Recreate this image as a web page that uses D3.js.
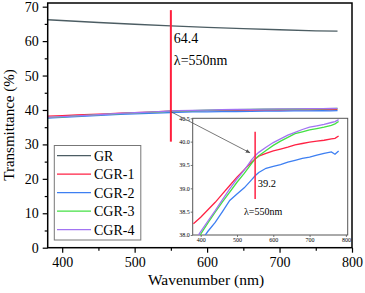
<!DOCTYPE html>
<meta charset="utf-8">
<style>
body { margin: 0; background: #fff; }
text { font-family: "Liberation Serif", "Times New Roman", serif; fill: #000; }
.line { fill: none; stroke-width: 1.3px; }
</style>
<svg width="365" height="293"></svg>
<script src="https://cdn.jsdelivr.net/npm/d3@7"></script>
<script>

// GR curve
var grWave = [380, 450, 500, 550, 600, 650, 700, 750, 780];
var grVals = [66.2, 65.4, 64.9, 64.4, 64.0, 63.6, 63.3, 63.0, 62.9];

// CGR curves share one wavelength grid
var wave = [380, 400, 420, 440, 460, 480, 500, 520, 540, 550, 560, 580, 600, 620, 640, 660, 680, 700, 720, 740, 760, 770, 780];
var cgr1 = [38.24, 38.38, 38.54, 38.70, 38.88, 39.06, 39.24, 39.40, 39.56, 39.63, 39.69, 39.75, 39.80, 39.84, 39.88, 39.93, 39.96, 39.99, 40.01, 40.03, 40.06, 40.07, 40.12];
var cgr2 = [37.62, 37.86, 38.08, 38.27, 38.50, 38.74, 38.88, 39.01, 39.18, 39.27, 39.34, 39.43, 39.47, 39.51, 39.56, 39.60, 39.64, 39.67, 39.71, 39.75, 39.78, 39.73, 39.80];
var cgr3 = [37.80, 38.02, 38.26, 38.49, 38.71, 38.92, 39.13, 39.32, 39.53, 39.63, 39.70, 39.81, 39.92, 40.01, 40.09, 40.17, 40.21, 40.25, 40.28, 40.31, 40.35, 40.38, 40.43];
var cgr4 = [37.84, 38.07, 38.30, 38.52, 38.76, 38.99, 39.20, 39.39, 39.61, 39.70, 39.77, 39.88, 39.98, 40.06, 40.14, 40.20, 40.26, 40.31, 40.34, 40.37, 40.41, 40.43, 40.47];

var names = ["GR", "CGR-1", "CGR-2", "CGR-3", "CGR-4"];
var colors = ["#4c5d63", "#ff2244", "#3d7ff2", "#44e044", "#a274f2"];

var xTicks = [400, 500, 600, 700, 800];
var yTicks = [0, 10, 20, 30, 40, 50, 60, 70];
var insetXTicks = [400, 500, 600, 700, 800];
var insetYTicks = [38.0, 38.5, 39.0, 39.5, 40.0, 40.5];

var svg = d3.select("svg");

var x = d3.scaleLinear().domain([380, 800]).range([47.7, 352]);
var y = d3.scaleLinear().domain([0, 71.07]).range([247.7, 3]);

var series = [cgr1, cgr2, cgr3, cgr4];

// main curves
var line = d3.line().x(function(d) { return x(d[0]); }).y(function(d) { return y(d[1]); });
svg.append("path")
    .attr("class", "line")
    .attr("stroke", colors[0])
    .attr("d", line(d3.zip(grWave, grVals)));
series.forEach(function(s, i) {
  svg.append("path")
      .attr("class", "line")
      .attr("stroke", colors[i + 1])
      .attr("d", line(d3.zip(wave, s)));
});

// frame
svg.append("rect")
    .attr("x", x.range()[0]).attr("y", y.range()[1])
    .attr("width", x.range()[1] - x.range()[0])
    .attr("height", y.range()[0] - y.range()[1])
    .attr("fill", "none").attr("stroke", "#000").attr("stroke-width", 1.5);

// axes with minor ticks
function styleAxis(g) {
  g.select(".domain").remove();
  g.selectAll("line").attr("stroke", "#000").attr("stroke-width", 1.2);
  g.selectAll("text").style("font-family", "Liberation Serif, Times New Roman, serif");
}
svg.append("g").attr("transform", "translate(0," + y.range()[0] + ")")
    .call(d3.axisBottom(x).tickValues(d3.range(450, 800, 100)).tickSize(3).tickFormat(""))
    .call(styleAxis);
svg.append("g").attr("transform", "translate(0," + y.range()[0] + ")")
    .call(d3.axisBottom(x).tickValues(xTicks).tickSize(5).tickPadding(4))
    .call(styleAxis)
    .selectAll("text").attr("font-size", 14);
svg.append("g").attr("transform", "translate(" + x.range()[0] + ",0)")
    .call(d3.axisLeft(y).tickValues(d3.range(5, 71, 10)).tickSize(3).tickFormat(""))
    .call(styleAxis);
svg.append("g").attr("transform", "translate(" + x.range()[0] + ",0)")
    .call(d3.axisLeft(y).tickValues(yTicks).tickSize(5).tickPadding(4))
    .call(styleAxis)
    .selectAll("text").attr("font-size", 14);

// axis titles
svg.append("text")
    .attr("x", 206).attr("y", 285)
    .attr("text-anchor", "middle").attr("font-size", 15.5)
    .text("Wavenumber (nm)");
svg.append("text")
    .attr("transform", "translate(14,125) rotate(-90)")
    .attr("text-anchor", "middle").attr("font-size", 15)
    .text("Transmittance (%)");

// marker at 550 nm in main plot
svg.append("line")
    .attr("x1", x(550)).attr("x2", x(550))
    .attr("y1", y(69)).attr("y2", y(30.8))
    .attr("stroke", "#ff1f3d").attr("stroke-width", 2);
svg.append("text").attr("x", x(550) + 3).attr("y", 43).attr("font-size", 14).text("64.4");
svg.append("text").attr("x", x(550) + 3).attr("y", 65).attr("font-size", 14).text("λ=550nm");

// legend
var lg = svg.append("g");
lg.append("rect")
    .attr("x", 54.3).attr("y", 145.5).attr("width", 86.5).attr("height", 94.5)
    .attr("fill", "#fff").attr("stroke", "#777").attr("stroke-width", 1);
names.forEach(function(n, i) {
  var yy = 155.7 + i * 18.5;
  lg.append("line")
      .attr("x1", 57).attr("x2", 91).attr("y1", yy).attr("y2", yy)
      .attr("stroke", colors[i]).attr("stroke-width", 1.3);
  lg.append("text").attr("x", 94).attr("y", yy + 5).attr("font-size", 14).text(n);
});

// inset
var xi = d3.scaleLinear().domain([378, 805]).range([192.7, 347.7]);
var yi = d3.scaleLinear().domain([38, 40.5]).range([235, 118.3]);

var inset = svg.append("g");
inset.append("rect")
    .attr("x", xi.range()[0]).attr("y", yi.range()[1])
    .attr("width", xi.range()[1] - xi.range()[0])
    .attr("height", yi.range()[0] - yi.range()[1])
    .attr("fill", "#fff").attr("stroke", "#555").attr("stroke-width", 1);

svg.append("clipPath").attr("id", "clip")
  .append("rect")
    .attr("x", xi.range()[0]).attr("y", yi.range()[1])
    .attr("width", xi.range()[1] - xi.range()[0])
    .attr("height", yi.range()[0] - yi.range()[1]);

var iline = d3.line().x(function(d) { return xi(d[0]); }).y(function(d) { return yi(d[1]); });
var curves = inset.append("g").attr("clip-path", "url(#clip)");
series.forEach(function(s, i) {
  curves.append("path")
      .attr("class", "line")
      .attr("stroke", colors[i + 1])
      .attr("stroke-width", 1.1)
      .attr("d", iline(d3.zip(wave, s)));
});

function styleInset(g) {
  g.select(".domain").remove();
  g.selectAll("line").attr("stroke", "#555").attr("stroke-width", 0.8);
  g.selectAll("text").attr("font-size", 6).attr("fill", "#444")
      .style("font-family", "Liberation Serif, Times New Roman, serif");
}
inset.append("g").attr("transform", "translate(0," + yi.range()[0] + ")")
    .call(d3.axisBottom(xi).tickValues(insetXTicks).tickSize(2).tickPadding(1)
      .tickFormat(d3.format("d")))
    .call(styleInset);
inset.append("g").attr("transform", "translate(" + xi.range()[0] + ",0)")
    .call(d3.axisLeft(yi).tickValues(insetYTicks).tickSize(2).tickPadding(1)
      .tickFormat(d3.format(".1f")))
    .call(styleInset);

inset.append("line")
    .attr("x1", xi(550)).attr("x2", xi(550))
    .attr("y1", yi(40.21)).attr("y2", yi(38.77))
    .attr("stroke", "#ff2244").attr("stroke-width", 1.5);
inset.append("text").attr("x", 257.7).attr("y", 186.5).attr("font-size", 10.5).text("39.2");
inset.append("text").attr("x", 244).attr("y", 215).attr("font-size", 10).text("λ=550nm");

// arrow from main curve to inset
svg.append("defs").append("marker")
    .attr("id", "arrow")
    .attr("viewBox", "0 0 10 10").attr("refX", 9).attr("refY", 5)
    .attr("markerWidth", 6).attr("markerHeight", 6)
    .attr("orient", "auto")
  .append("path").attr("d", "M0,1L10,5L0,9Z").attr("fill", "#555");
svg.append("line")
    .attr("x1", x(550)).attr("y1", y(39.5))
    .attr("x2", xi(536)).attr("y2", yi(39.76))
    .attr("stroke", "#555").attr("stroke-width", 0.8)
    .attr("marker-end", "url(#arrow)");

</script>
